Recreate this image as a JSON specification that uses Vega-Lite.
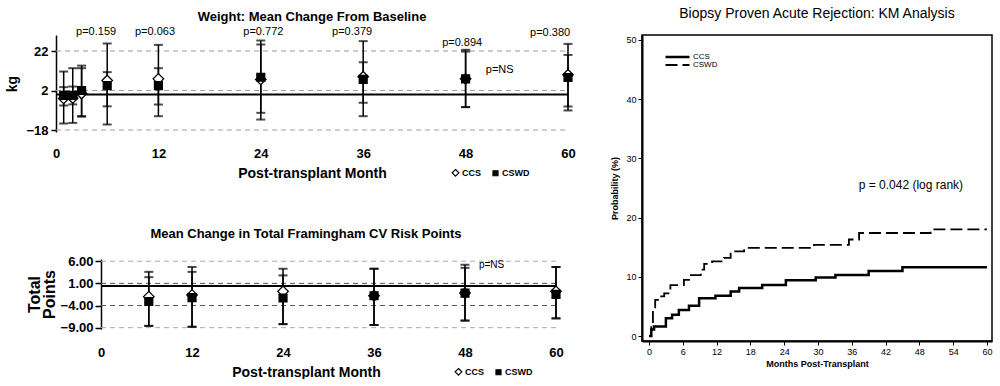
{
  "$schema": "https://vega.github.io/schema/vega-lite/v6.json",
  "padding": {"left": 5, "top": 6, "right": 0, "bottom": 0},
  "background": "white",
  "config": {
    "font": "Liberation Sans",
    "view": {"stroke": null},
    "axis": {"labelColor": "black", "titleColor": "black", "domainColor": "black", "tickColor": "black", "grid": false, "labelFlush": false, "labelOverlap": false},
    "title": {"color": "black"},
    "legend": {"labelColor": "black"}
  },
  "datasets": {
    "weight": [
      {"month": 0.9, "group": "CCS", "mean": -2.0, "lo": -14.7, "hi": 11.6},
      {"month": 1.96, "group": "CCS", "mean": -1.8, "lo": -14.4, "hi": 13.3},
      {"month": 3.0, "group": "CCS", "mean": 0.5, "lo": -11.2, "hi": 13.3},
      {"month": 6, "group": "CCS", "mean": 7.1, "lo": -6.0, "hi": 25.8},
      {"month": 12, "group": "CCS", "mean": 7.9, "lo": -5.1, "hi": 25.1},
      {"month": 24, "group": "CCS", "mean": 7.6, "lo": -12.7, "hi": 25.3},
      {"month": 36, "group": "CCS", "mean": 9.0, "lo": -4.2, "hi": 27.0},
      {"month": 48, "group": "CCS", "mean": 7.9, "lo": -6.4, "hi": 22.6},
      {"month": 60, "group": "CCS", "mean": 10.0, "lo": -6.1, "hi": 25.6},
      {"month": 0.9, "group": "CSWD", "mean": -0.5, "lo": -5.6, "hi": 3.7},
      {"month": 1.96, "group": "CSWD", "mean": -0.5, "lo": -5.0, "hi": 4.0},
      {"month": 3.0, "group": "CSWD", "mean": 2.0, "lo": -11.0, "hi": 14.6},
      {"month": 6, "group": "CSWD", "mean": 4.5, "lo": -15.2, "hi": 11.3},
      {"month": 12, "group": "CSWD", "mean": 4.5, "lo": -11.0, "hi": 13.3},
      {"month": 24, "group": "CSWD", "mean": 8.7, "lo": -9.3, "hi": 27.3},
      {"month": 36, "group": "CSWD", "mean": 7.6, "lo": -11.0, "hi": 16.3},
      {"month": 48, "group": "CSWD", "mean": 7.9, "lo": -6.4, "hi": 21.7},
      {"month": 60, "group": "CSWD", "mean": 8.6, "lo": -8.1, "hi": 20.0}
    ],
    "w_p": [
      {"month": 4.7, "y": 31.4, "label": "p=0.159"},
      {"month": 11.6, "y": 31.4, "label": "p=0.063"},
      {"month": 24.3, "y": 31.4, "label": "p=0.772"},
      {"month": 34.7, "y": 31.4, "label": "p=0.379"},
      {"month": 47.6, "y": 26.3, "label": "p=0.894"},
      {"month": 57.9, "y": 31.0, "label": "p=0.380"},
      {"month": 52, "y": 12.6, "label": "p=NS"}
    ],
    "w_grid": [{"v": 22}, {"v": 2}, {"v": -18}],
    "w_zero": [{"v": 0}],
    "fram": [
      {"month": 6.3, "group": "CCS", "mean": -2.0, "lo": -8.6, "hi": 3.6},
      {"month": 12, "group": "CCS", "mean": -1.6, "lo": -8.8, "hi": 4.7},
      {"month": 24, "group": "CCS", "mean": -0.8, "lo": -8.2, "hi": 4.3},
      {"month": 36, "group": "CCS", "mean": -1.8, "lo": -8.4, "hi": 4.3},
      {"month": 48, "group": "CCS", "mean": -1.2, "lo": -7.4, "hi": 5.2},
      {"month": 60, "group": "CCS", "mean": -0.8, "lo": -6.9, "hi": 4.7},
      {"month": 6.3, "group": "CSWD", "mean": -3.1, "lo": -8.6, "hi": 2.4},
      {"month": 12, "group": "CSWD", "mean": -2.2, "lo": -8.8, "hi": 3.6},
      {"month": 24, "group": "CSWD", "mean": -2.3, "lo": -8.2, "hi": 2.8},
      {"month": 36, "group": "CSWD", "mean": -1.8, "lo": -8.4, "hi": 4.3},
      {"month": 48, "group": "CSWD", "mean": -1.2, "lo": -7.4, "hi": 4.5},
      {"month": 60, "group": "CSWD", "mean": -1.5, "lo": -6.9, "hi": 4.7}
    ],
    "f_grid_outer": [{"v": 6}, {"v": -9}],
    "f_grid_inner": [{"v": 1}, {"v": -4}],
    "f_zero": [{"v": 0.4}],
    "f_p": [{"month": 51.5, "y": 5.2, "label": "p=NS"}],
    "km": [
      {"month": 0, "prob": 0, "group": "CCS"},
      {"month": 0.4, "prob": 1.1, "group": "CCS"},
      {"month": 0.9, "prob": 1.6, "group": "CCS"},
      {"month": 3.0, "prob": 3.0, "group": "CCS"},
      {"month": 4.1, "prob": 3.6, "group": "CCS"},
      {"month": 5.3, "prob": 4.4, "group": "CCS"},
      {"month": 7.1, "prob": 5.1, "group": "CCS"},
      {"month": 8.9, "prob": 6.4, "group": "CCS"},
      {"month": 11.8, "prob": 6.8, "group": "CCS"},
      {"month": 14.5, "prob": 7.5, "group": "CCS"},
      {"month": 16.0, "prob": 8.1, "group": "CCS"},
      {"month": 20.1, "prob": 8.6, "group": "CCS"},
      {"month": 24.3, "prob": 9.4, "group": "CCS"},
      {"month": 29.6, "prob": 9.9, "group": "CCS"},
      {"month": 33.1, "prob": 10.3, "group": "CCS"},
      {"month": 39.0, "prob": 11.0, "group": "CCS"},
      {"month": 45.0, "prob": 11.6, "group": "CCS"},
      {"month": 60.0, "prob": 11.6, "group": "CCS"},
      {"month": 0, "prob": 0, "group": "CSWD"},
      {"month": 0.4, "prob": 2.1, "group": "CSWD"},
      {"month": 0.7, "prob": 4.4, "group": "CSWD"},
      {"month": 1.1, "prob": 6.1, "group": "CSWD"},
      {"month": 2.0, "prob": 6.7, "group": "CSWD"},
      {"month": 2.7, "prob": 7.2, "group": "CSWD"},
      {"month": 3.8, "prob": 8.6, "group": "CSWD"},
      {"month": 6.2, "prob": 9.5, "group": "CSWD"},
      {"month": 7.1, "prob": 10.3, "group": "CSWD"},
      {"month": 9.2, "prob": 11.2, "group": "CSWD"},
      {"month": 9.8, "prob": 12.2, "group": "CSWD"},
      {"month": 11.2, "prob": 12.6, "group": "CSWD"},
      {"month": 13.3, "prob": 13.2, "group": "CSWD"},
      {"month": 14.5, "prob": 14.3, "group": "CSWD"},
      {"month": 16.9, "prob": 14.9, "group": "CSWD"},
      {"month": 29.3, "prob": 15.4, "group": "CSWD"},
      {"month": 35.5, "prob": 16.3, "group": "CSWD"},
      {"month": 37.3, "prob": 17.4, "group": "CSWD"},
      {"month": 50.0, "prob": 18.0, "group": "CSWD"},
      {"month": 60.0, "prob": 18.0, "group": "CSWD"}
    ],
    "km_p": [{"month": 46.5, "prob": 25.5, "label": "p = 0.042 (log rank)"}]
  },
  "hconcat": [
    {
      "concat": [
        {
          "width": 512,
          "height": 97,
          "title": {"text": "Weight:  Mean Change From Baseline", "fontSize": 13, "fontWeight": "bold", "anchor": "middle", "offset": 2},
          "layer": [
            {
              "data": {"name": "w_grid"},
              "mark": {"type": "rule", "color": "#9a9a9a", "strokeDash": [5, 4], "strokeWidth": 1},
              "encoding": {
                "y": {"field": "v", "type": "quantitative"},
                "x": {"datum": 0, "type": "quantitative"},
                "x2": {"datum": 60}
              }
            },
            {
              "data": {"name": "w_zero"},
              "mark": {"type": "rule", "color": "black", "strokeWidth": 2},
              "encoding": {
                "y": {"field": "v", "type": "quantitative"},
                "x": {"datum": 0, "type": "quantitative"},
                "x2": {"datum": 60}
              }
            },
            {
              "data": {"name": "weight"},
              "mark": {"type": "rule", "color": "black", "strokeWidth": 1.5},
              "encoding": {
                "x": {"field": "month", "type": "quantitative", "scale": {"domain": [0, 60], "nice": false, "zero": false},
                  "axis": {"values": [0, 12, 24, 36, 48, 60], "tickCount": 6, "domain": false, "ticks": false, "labelPadding": 15, "labelFontSize": 13, "labelFontWeight": "bold", "labelOverlap": false, "title": "Post-transplant Month", "titleFontSize": 14, "titleFontWeight": "bold", "titlePadding": 6}},
                "y": {"field": "lo", "type": "quantitative", "scale": {"domain": [-19, 30.1], "nice": false, "zero": false},
                  "axis": {"values": [22, 2, -18], "tickCount": 3, "title": "kg", "titleFontSize": 14, "titleFontWeight": "bold", "labelFontSize": 13, "labelFontWeight": "bold", "labelOverlap": false, "domainWidth": 1.5, "tickSize": 5, "tickWidth": 1.5, "labelPadding": 3, "titlePadding": 6}},
                "y2": {"field": "hi"}
              }
            },
            {
              "data": {"name": "weight"},
              "mark": {"type": "tick", "orient": "horizontal", "color": "black", "size": 9, "thickness": 2},
              "encoding": {
                "x": {"field": "month", "type": "quantitative"},
                "y": {"field": "lo", "type": "quantitative"}
              }
            },
            {
              "data": {"name": "weight"},
              "mark": {"type": "tick", "orient": "horizontal", "color": "black", "size": 9, "thickness": 2},
              "encoding": {
                "x": {"field": "month", "type": "quantitative"},
                "y": {"field": "hi", "type": "quantitative"}
              }
            },
            {
              "data": {"name": "weight"},
              "mark": {"type": "point", "filled": true, "strokeWidth": 1.3, "opacity": 1, "size": 110},
              "encoding": {
                "x": {"field": "month", "type": "quantitative"},
                "y": {"field": "mean", "type": "quantitative"},
                "shape": {"field": "group", "type": "nominal", "scale": {"domain": ["CCS", "CSWD"], "range": ["M0,-1L1,0L0,1L-1,0Z", "M-0.75,-0.75H0.75V0.75H-0.75Z"]},
                  "legend": {"orient": "none", "legendX": 395, "legendY": 133, "direction": "horizontal", "title": null, "symbolSize": 45, "labelFontSize": 9, "labelFontWeight": "bold", "columnPadding": 8, "symbolStrokeWidth": 1.2, "labelOffset": 2}},
                "fill": {"field": "group", "type": "nominal", "scale": {"domain": ["CCS", "CSWD"], "range": ["white", "black"]},
                  "legend": {"orient": "none", "legendX": 395, "legendY": 133, "direction": "horizontal", "title": null, "symbolSize": 45, "labelFontSize": 9, "labelFontWeight": "bold", "columnPadding": 8, "symbolStrokeWidth": 1.2, "labelOffset": 2}},
                "stroke": {"field": "group", "type": "nominal", "scale": {"domain": ["CCS", "CSWD"], "range": ["black", "black"]},
                  "legend": {"orient": "none", "legendX": 395, "legendY": 133, "direction": "horizontal", "title": null, "symbolSize": 45, "labelFontSize": 9, "labelFontWeight": "bold", "columnPadding": 8, "symbolStrokeWidth": 1.2, "labelOffset": 2}}
              }
            },
            {
              "data": {"name": "w_p"},
              "mark": {"type": "text", "fontSize": 11, "color": "black"},
              "encoding": {
                "x": {"field": "month", "type": "quantitative"},
                "y": {"field": "y", "type": "quantitative"},
                "text": {"field": "label"}
              }
            }
          ]
        },
        {
          "width": 500,
          "height": 70,
          "title": {"text": "Mean Change in Total Framingham CV Risk Points", "fontSize": 13, "fontWeight": "bold", "anchor": "middle", "offset": 14},
          "layer": [
            {
              "data": {"name": "f_grid_outer"},
              "mark": {"type": "rule", "color": "#aaaaaa", "strokeDash": [5, 4], "strokeWidth": 1},
              "encoding": {
                "y": {"field": "v", "type": "quantitative"},
                "x": {"datum": 0, "type": "quantitative"},
                "x2": {"datum": 60}
              }
            },
            {
              "data": {"name": "f_grid_inner"},
              "mark": {"type": "rule", "color": "#555555", "strokeDash": [5, 4], "strokeWidth": 1},
              "encoding": {
                "y": {"field": "v", "type": "quantitative"},
                "x": {"datum": 0, "type": "quantitative"},
                "x2": {"datum": 60}
              }
            },
            {
              "data": {"name": "f_zero"},
              "mark": {"type": "rule", "color": "black", "strokeWidth": 2},
              "encoding": {
                "y": {"field": "v", "type": "quantitative"},
                "x": {"datum": 0, "type": "quantitative"},
                "x2": {"datum": 60}
              }
            },
            {
              "data": {"name": "fram"},
              "mark": {"type": "rule", "color": "black", "strokeWidth": 1.5},
              "encoding": {
                "x": {"field": "month", "type": "quantitative", "scale": {"domain": [-5.94, 60], "nice": false, "zero": false},
                  "axis": {"values": [0, 12, 24, 36, 48, 60], "tickCount": 6, "domain": false, "ticks": false, "labelPadding": 17, "labelFontSize": 13, "labelFontWeight": "bold", "labelOverlap": false, "title": "Post-transplant Month", "titleFontSize": 14, "titleFontWeight": "bold", "titlePadding": 6}},
                "y": {"field": "lo", "type": "quantitative", "scale": {"domain": [-9.3, 6.5], "nice": false, "zero": false},
                  "axis": {"values": [6, 1, -4, -9], "tickCount": 4, "format": ".2f", "offset": -45, "title": ["Total", "Points"], "titleFontSize": 16, "titleFontWeight": "bold", "titleLineHeight": 15, "labelFontSize": 13, "labelFontWeight": "bold", "labelOverlap": false, "domainWidth": 1.5, "tickSize": 6, "tickWidth": 1.5, "labelPadding": 2, "titlePadding": 3}},
                "y2": {"field": "hi"}
              }
            },
            {
              "data": {"name": "fram"},
              "mark": {"type": "tick", "orient": "horizontal", "color": "black", "size": 9, "thickness": 2},
              "encoding": {
                "x": {"field": "month", "type": "quantitative"},
                "y": {"field": "lo", "type": "quantitative"}
              }
            },
            {
              "data": {"name": "fram"},
              "mark": {"type": "tick", "orient": "horizontal", "color": "black", "size": 9, "thickness": 2},
              "encoding": {
                "x": {"field": "month", "type": "quantitative"},
                "y": {"field": "hi", "type": "quantitative"}
              }
            },
            {
              "data": {"name": "fram"},
              "mark": {"type": "point", "filled": true, "strokeWidth": 1.3, "opacity": 1, "size": 110},
              "encoding": {
                "x": {"field": "month", "type": "quantitative"},
                "y": {"field": "mean", "type": "quantitative"},
                "shape": {"field": "group", "type": "nominal", "scale": {"domain": ["CCS", "CSWD"], "range": ["M0,-1L1,0L0,1L-1,0Z", "M-0.75,-0.75H0.75V0.75H-0.75Z"]},
                  "legend": {"orient": "none", "legendX": 398, "legendY": 108, "direction": "horizontal", "title": null, "symbolSize": 45, "labelFontSize": 9, "labelFontWeight": "bold", "columnPadding": 8, "symbolStrokeWidth": 1.2, "labelOffset": 2}},
                "fill": {"field": "group", "type": "nominal", "scale": {"domain": ["CCS", "CSWD"], "range": ["white", "black"]},
                  "legend": {"orient": "none", "legendX": 398, "legendY": 108, "direction": "horizontal", "title": null, "symbolSize": 45, "labelFontSize": 9, "labelFontWeight": "bold", "columnPadding": 8, "symbolStrokeWidth": 1.2, "labelOffset": 2}},
                "stroke": {"field": "group", "type": "nominal", "scale": {"domain": ["CCS", "CSWD"], "range": ["black", "black"]},
                  "legend": {"orient": "none", "legendX": 398, "legendY": 108, "direction": "horizontal", "title": null, "symbolSize": 45, "labelFontSize": 9, "labelFontWeight": "bold", "columnPadding": 8, "symbolStrokeWidth": 1.2, "labelOffset": 2}}
              }
            },
            {
              "data": {"name": "f_p"},
              "mark": {"type": "text", "fontSize": 10, "color": "black"},
              "encoding": {
                "x": {"field": "month", "type": "quantitative"},
                "y": {"field": "y", "type": "quantitative"},
                "text": {"field": "label"}
              }
            }
          ]
        }
      ],
      "columns": 1,
      "bounds": "flush",
      "spacing": 127,
      "resolve": {
        "scale": {"shape": "independent", "fill": "independent", "stroke": "independent"},
        "legend": {"shape": "independent", "fill": "independent", "stroke": "independent"}
      }
    },
    {
      "width": 350,
      "height": 306,
      "view": {"stroke": "black", "strokeWidth": 1.5},
      "title": {"text": "Biopsy Proven Acute Rejection: KM Analysis", "fontSize": 14, "fontWeight": "normal", "anchor": "middle", "offset": 14},
      "layer": [
        {
          "data": {"name": "km"},
          "mark": {"type": "line", "interpolate": "step-after", "color": "black"},
          "encoding": {
            "x": {"field": "month", "type": "quantitative", "scale": {"domain": [-1.24, 60.9], "nice": false, "zero": false},
              "axis": {"values": [0, 6, 12, 18, 24, 30, 36, 42, 48, 54, 60], "tickCount": 11, "title": "Months Post-Transplant", "titleFontSize": 9, "titleFontWeight": "bold", "labelFontSize": 9, "tickSize": 4, "domainWidth": 2, "titlePadding": 3}},
            "y": {"field": "prob", "type": "quantitative", "scale": {"domain": [-0.84, 50.84], "nice": false, "zero": false},
              "axis": {"values": [0, 10, 20, 30, 40, 50], "tickCount": 6, "title": "Probability (%)", "titleFontSize": 9, "titleFontWeight": "bold", "labelFontSize": 9, "tickSize": 4, "domainWidth": 2, "titlePadding": 6}},
            "strokeDash": {"field": "group", "type": "nominal", "scale": {"domain": ["CCS", "CSWD"], "range": [[1, 0], [12, 5]]},
              "legend": {"orient": "none", "legendX": 22, "legendY": 18, "title": null, "symbolType": "stroke", "symbolStrokeColor": "black", "symbolStrokeWidth": 1.5, "symbolSize": 576, "clipHeight": 8, "labelFontSize": 8, "rowPadding": 0, "labelOffset": 2}},
            "strokeWidth": {"field": "group", "type": "nominal", "scale": {"domain": ["CCS", "CSWD"], "range": [2.5, 1.8]}, "legend": null}
          }
        },
        {
          "data": {"name": "km_p"},
          "mark": {"type": "text", "fontSize": 12, "color": "black"},
          "encoding": {
            "x": {"field": "month", "type": "quantitative"},
            "y": {"field": "prob", "type": "quantitative"},
            "text": {"field": "label"}
          }
        }
      ]
    }
  ],
  "spacing": 34,
  "resolve": {
    "scale": {"shape": "independent", "fill": "independent", "stroke": "independent", "strokeDash": "independent", "strokeWidth": "independent"},
    "legend": {"shape": "independent", "fill": "independent", "stroke": "independent", "strokeDash": "independent", "strokeWidth": "independent"}
  }
}
